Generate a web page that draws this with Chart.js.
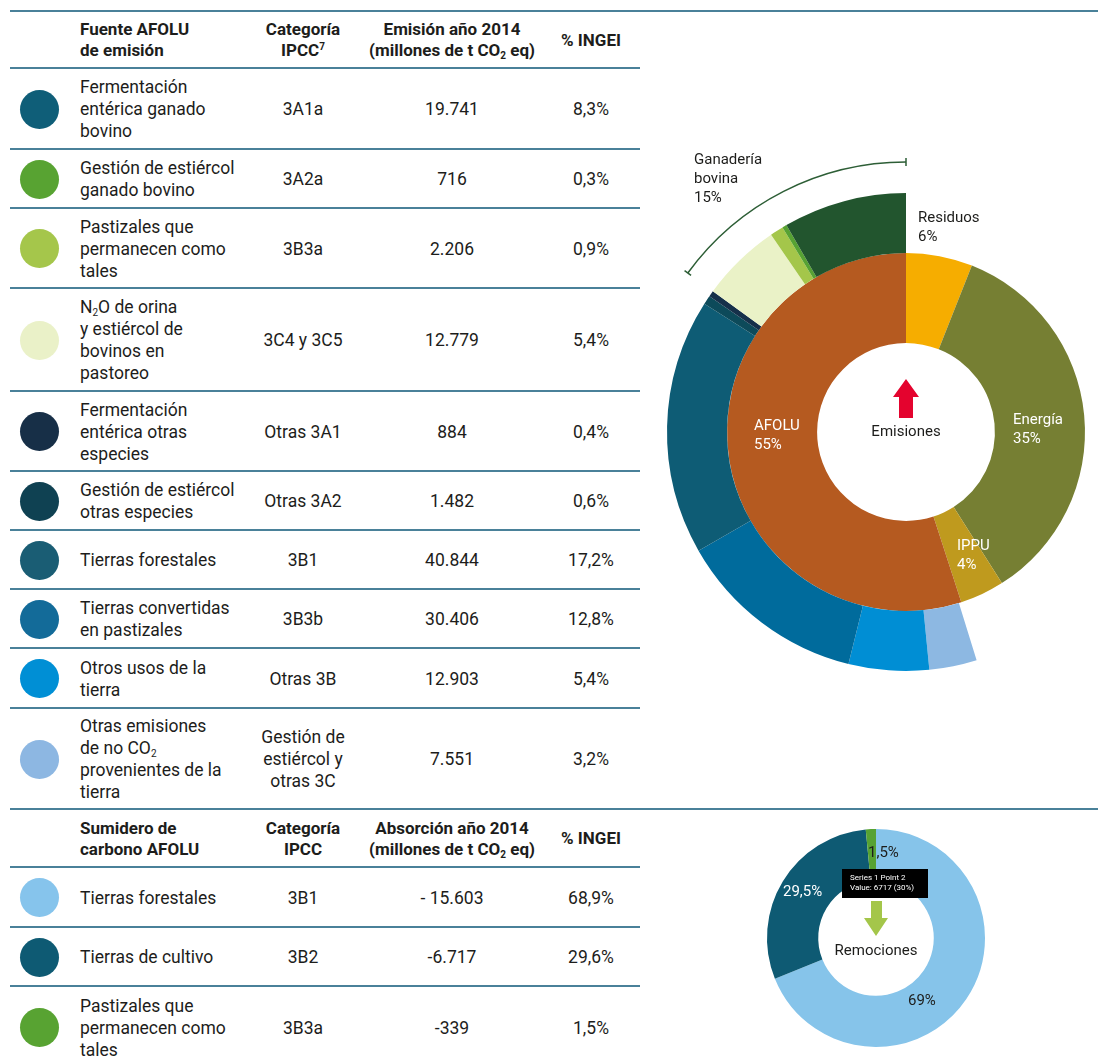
<!DOCTYPE html>
<html lang="es">
<head>
<meta charset="utf-8">
<title>Emisiones AFOLU</title>
<script src="https://cdn.jsdelivr.net/npm/chart.js@4.4.1/dist/chart.umd.min.js"></script>
<style>
  body { margin: 0; width: 1098px; height: 1059px; overflow: hidden; background: #fff;
         font-family: Roboto, "Noto Sans", sans-serif; color: #1d1d1b; position: relative; }
  .line { position: absolute; left: 10px; width: 630px; height: 2px; background: #4a8199; }
  .line.full { width: 1088px; }
  .row { position: absolute; left: 0; width: 640px; display: flex; align-items: center;
         font-size: 17.5px; line-height: 22px; }
  .row div { white-space: pre; }
  .dotcell { width: 80px; flex: none; }
  .dot { width: 39px; height: 39px; border-radius: 50%; margin-left: 20px; }
  .c1 { width: 168px; flex: none; }
  .c2 { width: 110px; flex: none; text-align: center; }
  .c3 { width: 188px; flex: none; text-align: center; }
  .c4 { width: 90px; flex: none; text-align: center; }
  .head { font-weight: 700; line-height: 21px; font-size: 17px; }
  sub { font-size: 10px; vertical-align: -3px; line-height: 0; }
  sup { font-size: 10px; vertical-align: 6px; line-height: 0; }
  #big { position: absolute; left: 656px; top: 140px; }
  #small { position: absolute; left: 740px; top: 818px; }
</style>
</head>
<body>
<div id="table"></div>
<canvas id="big" width="442" height="560"></canvas>
<canvas id="small" width="272" height="240"></canvas>
<script>
// --- tabla de fuentes de emisión ---
const fuentes = [
  'Fermentación\nentérica ganado\nbovino',
  'Gestión de estiércol\nganado bovino',
  'Pastizales que\npermanecen como\ntales',
  'N<sub>2</sub>O de orina\ny estiércol de\nbovinos en\npastoreo',
  'Fermentación\nentérica otras\nespecies',
  'Gestión de estiércol\notras especies',
  'Tierras forestales',
  'Tierras convertidas\nen pastizales',
  'Otros usos de la\ntierra',
  'Otras emisiones\nde no CO<sub>2</sub>\nprovenientes de la\ntierra'
];
const categorias = ['3A1a', '3A2a', '3B3a', '3C4 y 3C5', 'Otras 3A1', 'Otras 3A2', '3B1', '3B3b', 'Otras 3B', 'Gestión de\nestiércol y\notras 3C'];
const emisiones = ['19.741', '716', '2.206', '12.779', '884', '1.482', '40.844', '30.406', '12.903', '7.551'];
const ingei = ['8,3%', '0,3%', '0,9%', '5,4%', '0,4%', '0,6%', '17,2%', '12,8%', '5,4%', '3,2%'];
const fuenteColores = ['#0f5e78', '#58a332', '#a5c64b', '#eaf1c8', '#172f47', '#0f4152', '#1a5d74', '#136b99', '#008fd5', '#8db7e2'];

// --- tabla de sumideros ---
const sumideros = ['Tierras forestales', 'Tierras de cultivo', 'Pastizales que\npermanecen como\ntales'];
const sumCategorias = ['3B1', '3B2', '3B3a'];
const absorciones = ['- 15.603', '-6.717', '-339'];
const sumIngei = ['68,9%', '29,6%', '1,5%'];
const sumColores = ['#86c4ec', '#0e5a73', '#58a332'];

// --- gráfico de emisiones (anillo interior: sectores) ---
const sectores = ['Residuos', 'Energía', 'IPPU', 'AFOLU'];
const sectorPct = [6, 35, 4, 55];
const sectorColores = ['#f6ad00', '#767f33', '#bf9a1e', '#b55a20'];

// anillo exterior: desglose AFOLU en el orden del gráfico
const afoluLabels = ['Otras emisiones de no CO2', 'Otros usos de la tierra', 'Tierras convertidas en pastizales',
  'Tierras forestales', 'Gestión de estiércol otras especies', 'Fermentación entérica otras especies',
  'N2O de orina y estiércol de bovinos', 'Pastizales que permanecen como tales',
  'Gestión de estiércol ganado bovino', 'Fermentación entérica ganado bovino'];
const afoluPct = [3.2, 5.4, 12.8, 17.2, 0.6, 0.4, 5.4, 0.9, 0.3, 8.3];
const afoluColores = ['#8db8e2', '#008ed4', '#006b9c', '#0e5c75', '#0d4a5a', '#16304a', '#eaf2c7', '#a4c64a', '#57a233', '#22552e'];
const ganaderia = ['N2O de orina y estiércol de bovinos', 'Pastizales que permanecen como tales',
  'Gestión de estiércol ganado bovino', 'Fermentación entérica ganado bovino'];

// --- gráfico de remociones ---
const remociones = ['Tierras forestales', 'Tierras de cultivo', 'Pastizales'];
const remocionPct = [68.9, 29.6, 1.5];
const remocionEtiquetas = ['69%', '29,5%', '1,5%'];
const remocionColores = ['#86c4ea', '#0e5a73', '#57a233'];

// armado de la tabla
const lineasEmision = [68, 149, 208, 288, 391, 471, 530, 589, 648, 708, 809];
const lineasSumidero = [867, 927, 986, 1068];
const table = document.getElementById('table');

function addLine(y, full) {
  const d = document.createElement('div');
  d.className = 'line' + (full ? ' full' : '');
  d.style.top = (y - 1) + 'px';
  table.appendChild(d);
}
function addRow(top, bottom, color, a, b, c, e, head) {
  const r = document.createElement('div');
  r.className = 'row' + (head ? ' head' : '');
  r.style.top = (top + 1) + 'px';
  r.style.height = (bottom - top - 1) + 'px';
  r.innerHTML = '<div class="dotcell">' + (color ? '<div class="dot" style="background:' + color + '"></div>' : '') + '</div>' +
    '<div class="c1">' + a + '</div><div class="c2">' + b + '</div><div class="c3">' + c + '</div><div class="c4">' + e + '</div>';
  table.appendChild(r);
}

addLine(11, true);
addRow(11, 68, null, 'Fuente AFOLU\nde emisión', 'Categoría\nIPCC<sup>7</sup>', 'Emisión año 2014\n(millones de t CO<sub>2</sub> eq)', '% INGEI', true);
fuentes.forEach((f, i) => {
  addLine(lineasEmision[i]);
  addRow(lineasEmision[i], lineasEmision[i + 1], fuenteColores[i], f, categorias[i], emisiones[i], ingei[i]);
});
addLine(809, true);
addRow(809, 867, null, 'Sumidero de\ncarbono AFOLU', 'Categoría\nIPCC', 'Absorción año 2014\n(millones de t CO<sub>2</sub> eq)', '% INGEI', true);
sumideros.forEach((s, i) => {
  addLine(lineasSumidero[i]);
  addRow(lineasSumidero[i], lineasSumidero[i + 1], sumColores[i], s, sumCategorias[i], absorciones[i], sumIngei[i]);
});

// etiquetas y anotaciones del gráfico grande
const bigLabels = {
  id: 'bigLabels',
  afterDatasetsDraw(chart) {
    const ctx = chart.ctx;
    const inner = chart.getDatasetMeta(1).data[0];
    const cx = inner.x, cy = inner.y;
    ctx.save();
    ctx.font = '15px Roboto, sans-serif';
    ctx.textBaseline = 'middle';
    const txt = (lines, dx, dy, color) => {
      ctx.fillStyle = color;
      lines.forEach((l, k) => ctx.fillText(l, cx + dx, cy + dy + k * 19));
    };
    txt(['AFOLU', '55%'], -152, -6, '#ffffff');
    txt(['Energía', '35%'], 107, -12, '#ffffff');
    txt(['IPPU', '4%'], 51, 114, '#ffffff');
    txt(['Residuos', '6%'], 12, -214, '#1d1d1b');
    txt(['Ganadería', 'bovina', '15%'], -212, -272, '#1d1d1b');
    ctx.textAlign = 'center';
    txt(['Emisiones'], 0, 0, '#1d1d1b');

    // flecha roja
    ctx.fillStyle = '#e4032e';
    ctx.beginPath();
    ctx.moveTo(cx - 7, cy - 14);
    ctx.lineTo(cx + 7, cy - 14);
    ctx.lineTo(cx + 7, cy - 35);
    ctx.lineTo(cx + 13, cy - 35);
    ctx.lineTo(cx, cy - 53);
    ctx.lineTo(cx - 13, cy - 35);
    ctx.lineTo(cx - 7, cy - 35);
    ctx.closePath();
    ctx.fill();

    // llave de ganadería bovina
    const outer = chart.getDatasetMeta(0).data;
    const idx = ganaderia.map(g => afoluLabels.indexOf(g) + 1);
    const a0 = outer[Math.min(...idx)].startAngle;
    const a1 = outer[Math.max(...idx)].endAngle;
    const r = 270;
    ctx.strokeStyle = '#2d5e36';
    ctx.lineWidth = 1.5;
    ctx.beginPath();
    ctx.arc(cx, cy, r, a0, a1);
    ctx.stroke();
    [a0, a1].forEach(a => {
      ctx.beginPath();
      ctx.moveTo(cx + Math.cos(a) * (r - 4), cy + Math.sin(a) * (r - 4));
      ctx.lineTo(cx + Math.cos(a) * (r + 4), cy + Math.sin(a) * (r + 4));
      ctx.stroke();
    });
    ctx.restore();
  }
};

new Chart(document.getElementById('big'), {
  type: 'doughnut',
  data: {
    labels: afoluLabels,
    datasets: [
      {
        label: 'AFOLU',
        data: [sectorPct.slice(0, 3).reduce((s, v) => s + v, 0), ...afoluPct],
        backgroundColor: ['rgba(0,0,0,0)', ...afoluColores],
        borderWidth: 0,
        weight: 2,
        clip: false
      },
      {
        label: 'Sectores',
        data: sectorPct,
        backgroundColor: sectorColores,
        borderWidth: 0,
        weight: 3,
        clip: false
      }
    ]
  },
  options: {
    responsive: false,
    animation: false,
    radius: 239,
    cutout: '37.2%',
    layout: { padding: { left: 58, top: 24 } },
    events: [],
    plugins: { legend: { display: false }, tooltip: { enabled: false } }
  },
  plugins: [bigLabels]
});

// etiquetas del gráfico de remociones
const smallLabels = {
  id: 'smallLabels',
  afterDatasetsDraw(chart) {
    const ctx = chart.ctx;
    const arc = chart.getDatasetMeta(0).data[0];
    const cx = arc.x, cy = arc.y;
    ctx.save();
    ctx.font = '15px Roboto, sans-serif';
    ctx.textBaseline = 'middle';
    ctx.fillStyle = '#1d1d1b';
    ctx.fillText(remocionEtiquetas[2], cx - 8, cy - 85);
    ctx.fillText(remocionEtiquetas[0], cx + 32, cy + 63);
    ctx.fillStyle = '#ffffff';
    ctx.fillText(remocionEtiquetas[1], cx - 93, cy - 46);
    ctx.fillStyle = '#1d1d1b';
    ctx.textAlign = 'center';
    ctx.fillText('Remociones', cx, cy + 13);

    // flecha verde
    ctx.fillStyle = '#a4c64a';
    ctx.beginPath();
    ctx.moveTo(cx - 5, cy - 37);
    ctx.lineTo(cx + 6, cy - 37);
    ctx.lineTo(cx + 6, cy - 20);
    ctx.lineTo(cx + 12, cy - 20);
    ctx.lineTo(cx, cy - 2);
    ctx.lineTo(cx - 12, cy - 20);
    ctx.lineTo(cx - 5, cy - 20);
    ctx.closePath();
    ctx.fill();

    // recuadro negro del original
    ctx.fillStyle = '#000000';
    ctx.fillRect(cx - 34, cy - 69, 86, 29);
    ctx.fillStyle = '#ffffff';
    ctx.textAlign = 'left';
    ctx.font = '8px Roboto, sans-serif';
    ctx.fillText('Series 1 Point 2', cx - 26, cy - 60);
    ctx.fillText('Value: 6717 (30%)', cx - 26, cy - 50);
    ctx.restore();
  }
};

new Chart(document.getElementById('small'), {
  type: 'doughnut',
  data: {
    labels: remociones,
    datasets: [{
      data: remocionPct,
      backgroundColor: remocionColores,
      borderWidth: 0,
      clip: false
    }]
  },
  options: {
    responsive: false,
    animation: false,
    radius: 109,
    cutout: '53%',
    events: [],
    plugins: { legend: { display: false }, tooltip: { enabled: false } }
  },
  plugins: [smallLabels]
});
</script>
</body>
</html>
